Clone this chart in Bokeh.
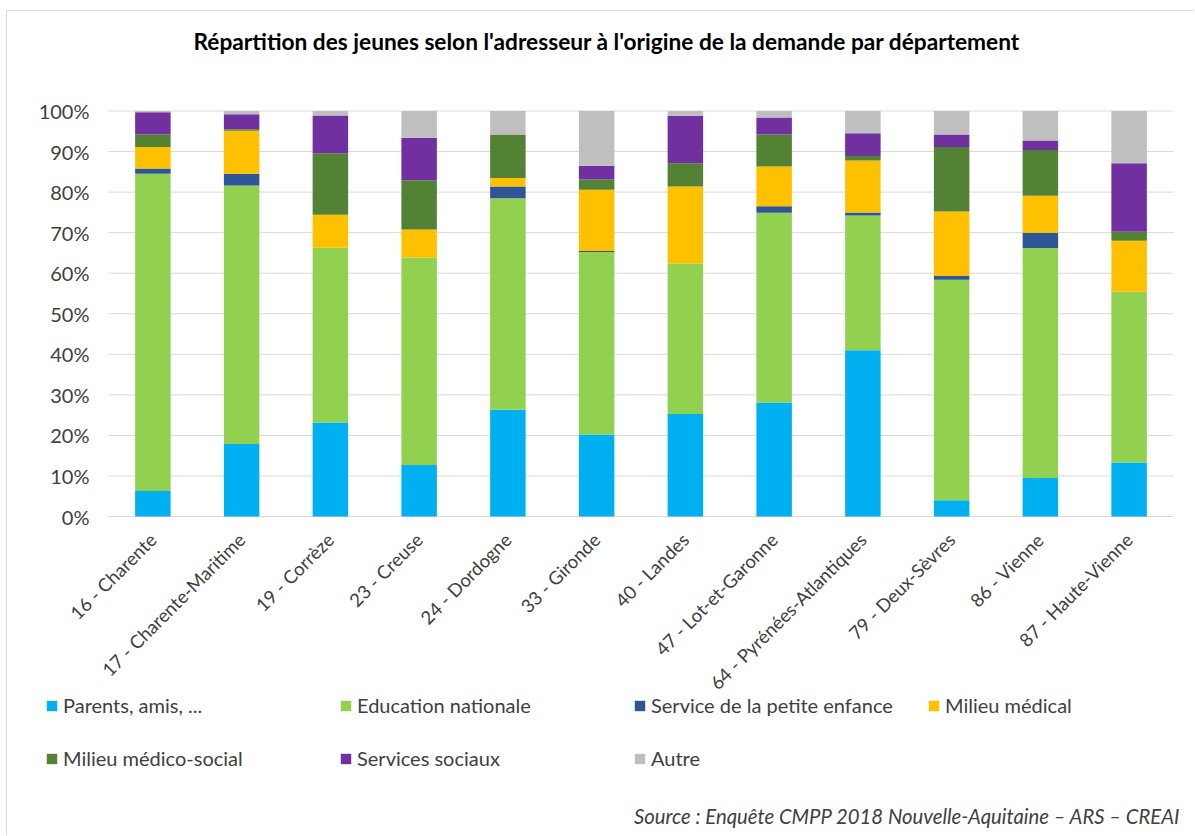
from bokeh.plotting import figure
from bokeh.models import (Range1d, FixedTicker, PrintfTickFormatter, Legend, LegendItem, Label)
from bokeh.embed import file_html
from bokeh.resources import INLINE
from math import pi

departements = ["16 - Charente", "17 - Charente-Maritime", "19 - Corrèze", "23 - Creuse",
                "24 - Dordogne", "33 - Gironde", "40 - Landes", "47 - Lot-et-Garonne",
                "64 - Pyrénées-Atlantiques", "79 - Deux-Sèvres", "86 - Vienne", "87 - Haute-Vienne"]

parents = [6.3, 17.9, 23.2, 12.7, 26.3, 20.2, 25.3, 28.1, 41.0, 4.0, 9.5, 13.3]
education = [78.2, 63.7, 43.1, 51.2, 52.2, 45.0, 37.1, 46.8, 33.2, 54.4, 56.7, 42.1]
petite_enfance = [1.3, 2.9, 0.0, 0.0, 2.9, 0.3, 0.0, 1.6, 0.8, 0.9, 3.8, 0.0]
medical = [5.3, 10.6, 8.1, 6.9, 2.1, 15.1, 19.0, 9.8, 12.8, 15.9, 9.1, 12.6]
medico_social = [3.1, 0.4, 15.2, 12.1, 10.7, 2.5, 5.7, 7.9, 1.1, 15.9, 11.3, 2.2]
services_sociaux = [5.5, 3.7, 9.3, 10.5, 0.0, 3.4, 11.7, 4.2, 5.6, 3.1, 2.3, 16.9]
autre = [0.3, 0.8, 1.1, 6.6, 5.8, 13.5, 1.2, 1.6, 5.5, 5.8, 7.3, 12.9]

y_ticks = [0, 10, 20, 30, 40, 50, 60, 70, 80, 90, 100]

series_names = ["Parents, amis, ...", "Education nationale", "Service de la petite enfance",
                "Milieu médical", "Milieu médico-social", "Services sociaux", "Autre"]
series_keys = ["parents", "education", "petite_enfance", "medical", "medico_social",
               "services_sociaux", "autre"]
colors = ["#00B0F0", "#92D050", "#2F5597", "#FFC000", "#548235", "#7030A0", "#BFBFBF"]

title_text = "Répartition des jeunes selon l'adresseur à l'origine de la demande par département"
source_text = "Source : Enquête CMPP 2018 Nouvelle-Aquitaine – ARS – CREAI"

n = len(departements)
xs = list(range(n))
data = dict(x=xs, parents=parents, education=education,
            petite_enfance=petite_enfance, medical=medical, medico_social=medico_social,
            services_sociaux=services_sociaux, autre=autre)

FONT = "Lato"

# ---- layout (page pixels) ----
CANVAS_X, CANVAS_Y = 7, 11          # after css margin + border
W, H = 1188, 825
FL, FR, FT, FB = 20, 1192, 14, 834  # frame edges on page
BAND_L, BAND_R = 108, 1173          # category band
Y0, Y100 = 516, 110.5               # pixel of 0% and 100%
cat_w = (BAND_R - BAND_L) / n
px_per_unit = (Y0 - Y100) / 100.0
x_start = (FL - BAND_L) / cat_w - 0.5
x_end = (FR - BAND_L) / cat_w - 0.5
y_start = -(FB - Y0) / px_per_unit
y_end = 100 + (Y100 - FT) / px_per_unit

p = figure(x_range=Range1d(x_start, x_end), y_range=Range1d(y_start, y_end),
           width=W, height=H, output_backend="svg", toolbar_location=None,
           min_border_left=FL - CANVAS_X, min_border_right=CANVAS_X + W - FR,
           min_border_top=FT - CANVAS_Y, min_border_bottom=CANVAS_Y + H - FB)
p.styles = {"margin-left": "6px", "margin-top": "10px",
            "border-left": "1px solid #d9d9d9", "border-top": "1px solid #d9d9d9"}
p.outline_line_color = None
p.xgrid.grid_line_color = None
p.ygrid.grid_line_color = None

# horizontal gridlines over the category band
p.segment(x0=-0.5, x1=n - 0.5, y0=y_ticks, y1=y_ticks, line_color="#d9d9d9",
          line_width=1, level="underlay")

renderers = p.vbar_stack(series_keys, x="x", width=0.40, color=colors, line_color=None,
                         source=data)

p.yaxis.ticker = FixedTicker(ticks=y_ticks)
p.yaxis.formatter = PrintfTickFormatter(format="%d%%")
p.yaxis.fixed_location = -0.5
p.xaxis.ticker = FixedTicker(ticks=xs)
p.xaxis.major_label_overrides = {i: d for i, d in enumerate(departements)}
p.xaxis.fixed_location = 0
for ax in (p.xaxis, p.yaxis):
    ax.axis_line_color = None
    ax.major_tick_line_color = None
    ax.minor_tick_line_color = None
    ax.major_tick_out = 0
    ax.major_tick_in = 0
    ax.major_label_text_font = FONT
    ax.major_label_text_color = "#404040"
p.yaxis.major_label_text_font_size = "20px"
p.xaxis.major_label_text_font_size = "18.5px"
p.yaxis.major_label_standoff = 19
p.xaxis.major_label_orientation = pi / 4
p.xaxis.major_label_standoff = 20

title = Label(x=193 - FL, y=FB - 41, x_units="screen", y_units="screen", text=title_text,
              text_align="left", text_baseline="middle", text_font=FONT,
              text_font_size="22.7px", text_font_style="bold", text_color="#000000")
p.add_layout(title)

items = [LegendItem(label=nm, renderers=[r]) for nm, r in zip(series_names, renderers)]
legend = Legend(items=items, orientation="horizontal", ncols=4,
                location=(45 - FL, FB - 784.5),
                border_line_color=None, background_fill_alpha=0, padding=0, margin=0,
                spacing=0, glyph_width=13, glyph_height=13, label_standoff=5,
                label_width=276, label_height=53,
                label_text_font=FONT, label_text_font_size="20px", label_text_color="#404040")
p.add_layout(legend, "center")

src = Label(x=1180 - FL, y=FB - 815, x_units="screen", y_units="screen", text=source_text,
            text_align="right", text_baseline="middle", text_font=FONT,
            text_font_size="20.3px", text_font_style="italic", text_color="#404040")
p.add_layout(src)

open("out.html", "w").write(file_html(p, INLINE))
